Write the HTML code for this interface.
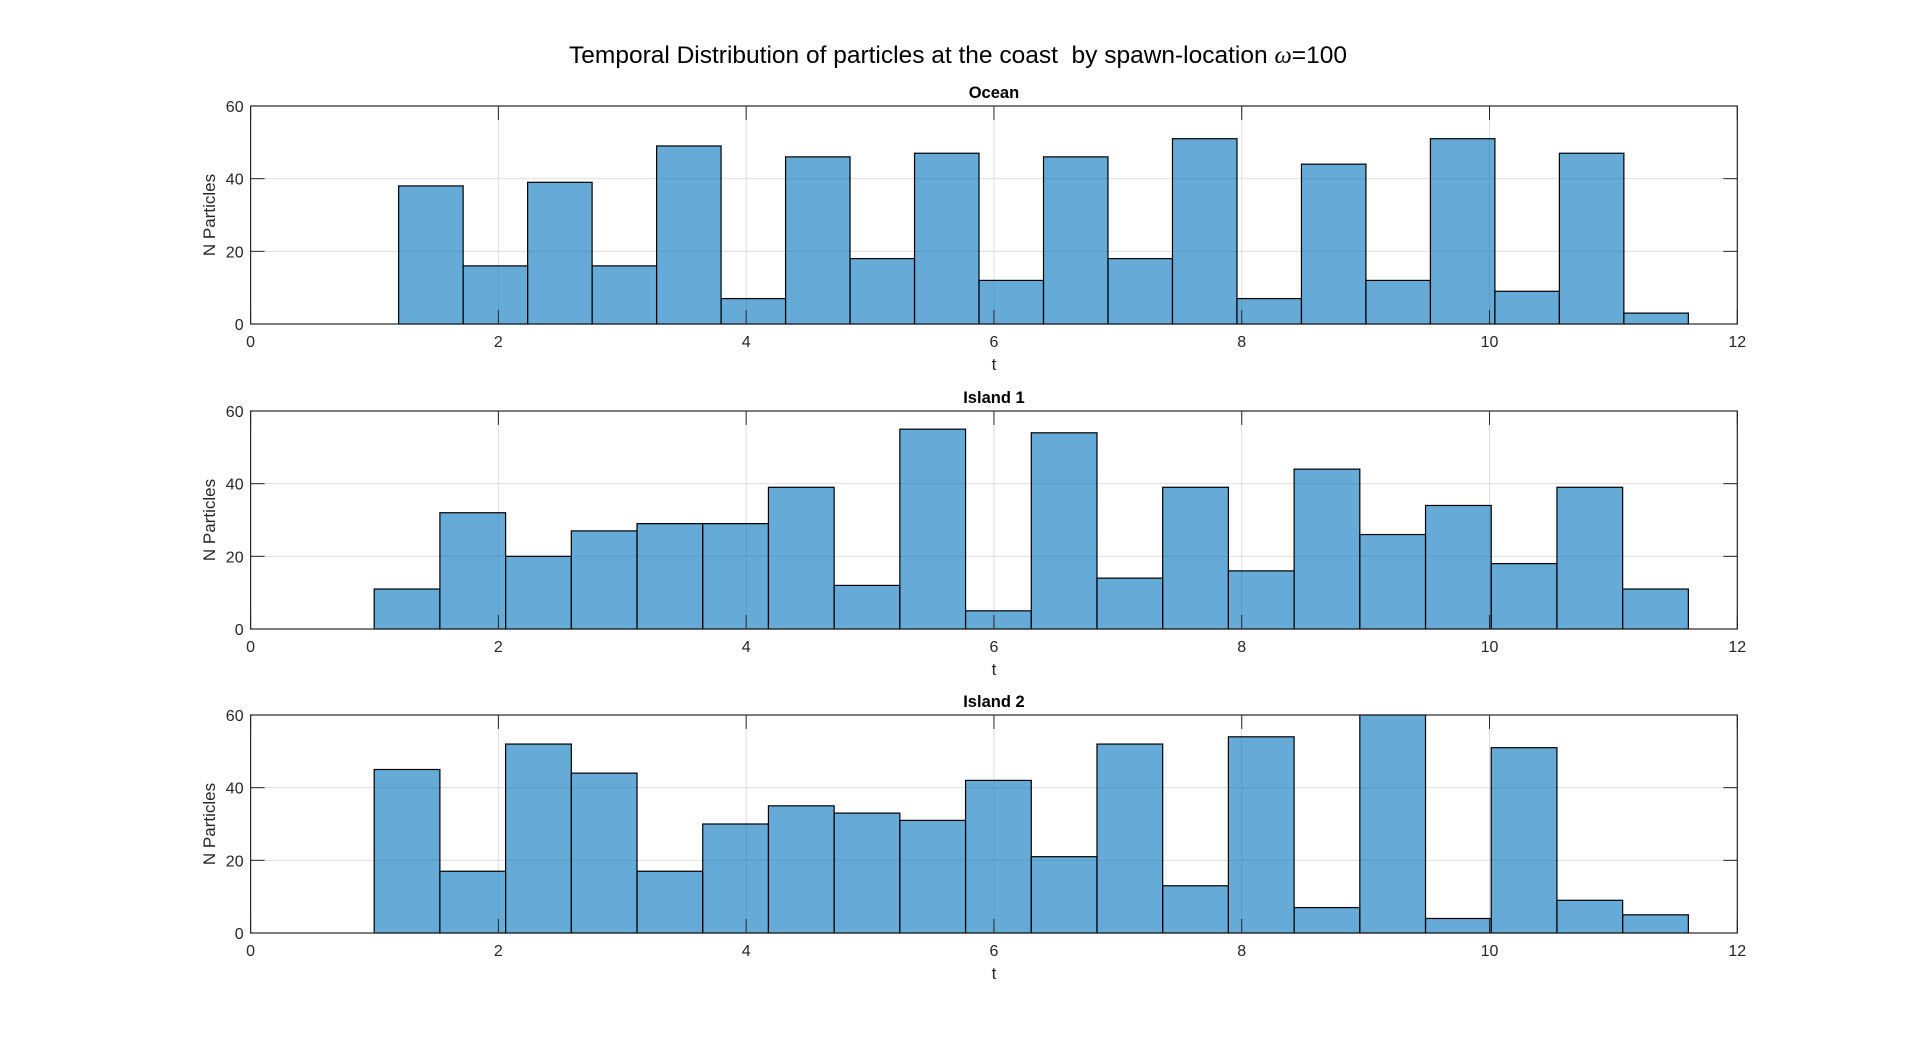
<!DOCTYPE html>
<html><head><meta charset="utf-8"><style>
html,body{margin:0;padding:0;background:#fff;}
svg{display:block;font-family:"Liberation Sans",Arial,sans-serif;}
</style></head><body>
<svg id="fig" width="1920" height="1046" viewBox="0 0 1920 1046" xmlns="http://www.w3.org/2000/svg">
<text x="958" y="63" font-size="24.5" text-anchor="middle" fill="#000" style="white-space:pre" xml:space="preserve">Temporal Distribution of particles at the coast  by spawn-location <tspan font-family="Liberation Serif" font-style="italic">ω</tspan>=100</text>
</svg>
<script>
const panelTitles = ["Ocean", "Island 1", "Island 2"];
const binStarts = [1.195, 0.9975, 0.9975];
const binEnds = [11.605, 11.605, 11.605];
const oceanCounts = [38,16,39,16,49,7,46,18,47,12,46,18,51,7,44,12,51,9,47,3];
const island1Counts = [11,32,20,27,29,29,39,12,55,5,54,14,39,16,44,26,34,18,39,11];
const island2Counts = [45,17,52,44,17,30,35,33,31,42,21,52,13,54,7,60,4,51,9,5];
const xTicks = [0,2,4,6,8,10,12];
const yTicks = [0,20,40,60];

const seriesList = [oceanCounts, island1Counts, island2Counts];
const svg = document.getElementById('fig');
const NS = 'http://www.w3.org/2000/svg';
const L = 250.6, R = 1737.3, H = 218;
const tops = [106, 411, 715];
function mk(tag, attrs, parent){const e=document.createElementNS(NS,tag);for(const k in attrs)e.setAttribute(k,attrs[k]);(parent||svg).appendChild(e);return e;}

tops.forEach((top, p) => {
  const bottom = top + H;
  const xs = v => L + (v - 0) / 12 * (R - L);
  const ys = v => bottom - v / 60 * H;
  const g = mk('g', {});
  
  
  xTicks.forEach(t => {
    if (t === 0 || t === 12) return;
    const l = mk('line', {x1: xs(t), x2: xs(t), y1: top, y2: bottom, stroke: '#dedede', 'stroke-width': 1}, g);
    
    
  });
  yTicks.forEach(t => {
    if (t === 0 || t === 60) return;
    const l = mk('line', {x1: L, x2: R, y1: ys(t), y2: ys(t), stroke: '#dedede', 'stroke-width': 1}, g);
    
    
  });
  const vals = seriesList[p];
  const w = (binEnds[p] - binStarts[p]) / vals.length;
  vals.forEach((v, i) => {
    const x0 = xs(binStarts[p] + i*w), x1 = xs(binStarts[p] + (i+1)*w);
    const r = mk('rect', {x: x0, y: ys(v), width: x1 - x0, height: bottom - ys(v), fill: 'rgba(0,114,189,0.6)', stroke: '#000', 'stroke-width': 1.2}, g);
    
    
  });
  xTicks.forEach(t => {
    mk('line', {x1: xs(t), x2: xs(t), y1: bottom, y2: bottom - 14, stroke: '#262626', 'stroke-width': 1}, g);
    mk('line', {x1: xs(t), x2: xs(t), y1: top, y2: top + 14, stroke: '#262626', 'stroke-width': 1}, g);
    const tx = mk('text', {x: xs(t), y: bottom + 23, 'font-size': 16, 'text-anchor': 'middle', fill: '#262626'}, g);
    tx.textContent = t;
    
    
  });
  yTicks.forEach(t => {
    mk('line', {x1: L, x2: L + 14, y1: ys(t), y2: ys(t), stroke: '#262626', 'stroke-width': 1}, g);
    mk('line', {x1: R, x2: R - 14, y1: ys(t), y2: ys(t), stroke: '#262626', 'stroke-width': 1}, g);
    const tx = mk('text', {x: L - 7, y: ys(t) + 6, 'font-size': 16, 'text-anchor': 'end', fill: '#262626'}, g);
    tx.textContent = t;
    
    
  });
  const box = mk('rect', {x: L, y: top, width: R - L, height: H, fill: 'none', stroke: '#262626', 'stroke-width': 1.2}, g);
  
  
  const tt = mk('text', {x: (L+R)/2, y: top - 8, 'font-size': 16.5, 'font-weight': 'bold', 'text-anchor': 'middle', fill: '#000'}, g);
  tt.textContent = panelTitles[p];
  
  
  const xl = mk('text', {x: (L+R)/2, y: bottom + 46, 'font-size': 17, 'text-anchor': 'middle', fill: '#262626'}, g);
  xl.textContent = 't';
  
  
  const yl = mk('text', {x: 0, y: 0, 'font-size': 17, 'text-anchor': 'middle', fill: '#262626', transform: 'translate(215,' + (top + H/2) + ') rotate(-90)'}, g);
  yl.textContent = 'N Particles';
  
  
});
</script>
</body></html>
